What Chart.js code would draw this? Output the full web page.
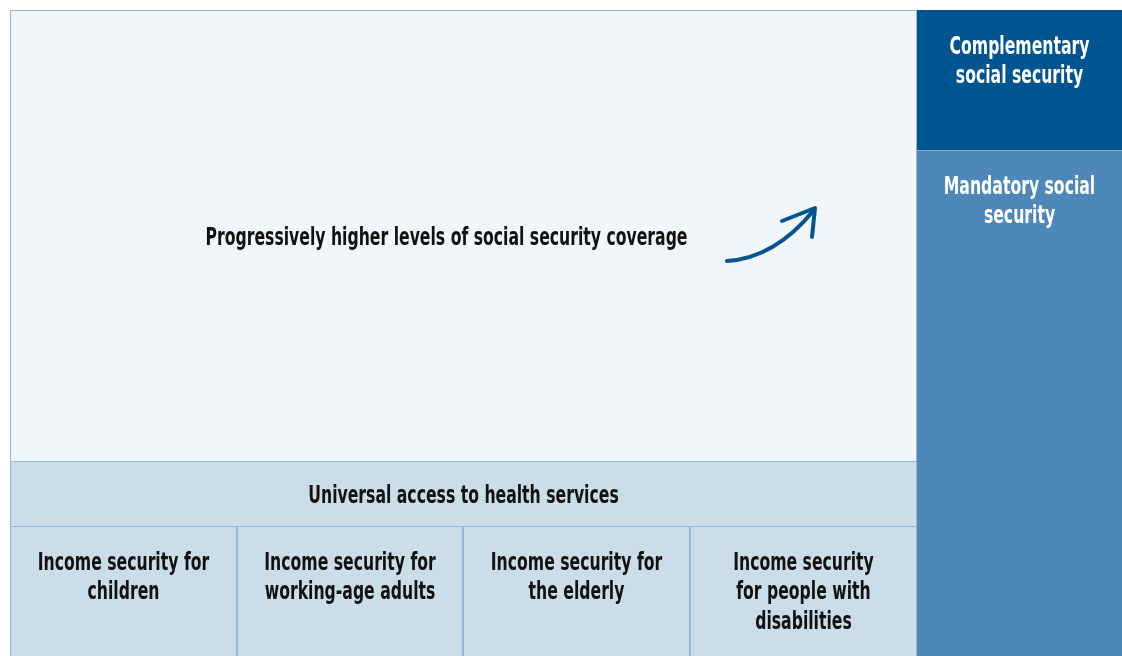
<!DOCTYPE html>
<html>
<head>
<meta charset="utf-8">
<script src="https://cdn.jsdelivr.net/npm/chart.js@4/dist/chart.umd.min.js"></script>
<style>
html, body { margin: 0; padding: 0; background: #fff; }
#wrap { width: 1122px; height: 656px; }
</style>
</head>
<body>
<div id="wrap"><canvas id="myChart" width="1122" height="656"></canvas></div>
<script>
// 칸 라벨 (줄 단위)
const cellLabels = [
    ['Progressively higher levels of social security coverage'],
    ['Universal access to health services'],
    ['Income security for', 'children'],
    ['Income security for', 'working-age adults'],
    ['Income security for', 'the elderly'],
    ['Income security', 'for people with', 'disabilities'],
    ['Complementary', 'social security'],
    ['Mandatory social', 'security']
];
// 칸 범위 (도식 단위)
const cellX0 = [10, 10, 10, 237, 463, 690, 917, 917];
const cellX1 = [917, 917, 237, 463, 690, 917, 1122, 1122];
const cellY0 = [10, 461, 526, 526, 526, 526, 10, 150];
const cellY1 = [461, 526, 656, 656, 656, 656, 150, 656];
const cellLevel = ['coverage', 'health', 'income', 'income', 'income', 'income', 'complementary', 'mandatory'];

// 화살표 (시작, 제어점, 끝)
const arrowPath = [[727, 261], [775, 258], [814, 210]];
const arrowWings = [[782, 221], [812, 237]];

const levelFill = {
    coverage: '#f0f6fa',
    health: '#cbdde9',
    income: '#cbdde9',
    complementary: '#00548f',
    mandatory: '#4e88b8'
};
const levelText = {
    coverage: '#111111',
    health: '#111111',
    income: '#111111',
    complementary: '#ffffff',
    mandatory: '#ffffff'
};

const FONT = "bold 25px 'Liberation Sans Narrow', 'DejaVu Sans Condensed', 'Open Sans', sans-serif";

const diagramPlugin = {
    id: 'diagram',
    beforeDatasetsDraw(chart) {
        const ctx = chart.ctx;
        const sx = chart.scales.x;
        const sy = chart.scales.y;
        const px = v => sx.getPixelForValue(v);
        const py = v => sy.getPixelForValue(v);

        ctx.save();
        // 칸 그리기
        cellLabels.forEach((lines, i) => {
            const x0 = px(cellX0[i]), x1 = px(cellX1[i]);
            const y0 = py(cellY0[i]), y1 = py(cellY1[i]);
            ctx.fillStyle = levelFill[cellLevel[i]];
            ctx.fillRect(x0, y0, x1 - x0, y1 - y0);
        });
        ctx.lineWidth = 1;
        cellLabels.forEach((lines, i) => {
            const x0 = px(cellX0[i]), x1 = px(cellX1[i]);
            const y0 = py(cellY0[i]), y1 = py(cellY1[i]);
            const lvl = cellLevel[i];
            if (lvl === 'complementary') return;
            if (lvl === 'mandatory') {
                // 위쪽 경계만
                ctx.strokeStyle = '#86abcb';
                ctx.beginPath();
                ctx.moveTo(x0, y0 + 0.5);
                ctx.lineTo(x1, y0 + 0.5);
                ctx.stroke();
                return;
            }
            ctx.strokeStyle = '#94b9da';
            ctx.strokeRect(x0 + 0.5, y0 + 0.5, x1 - x0 - 1, y1 - y0);
        });

        // 글자 폭 맞추기 (condensed)
        ctx.font = FONT;
        const squeeze = Math.min(1, 482 / ctx.measureText(cellLabels[0][0]).width);
        const lineH = 29.5;

        cellLabels.forEach((lines, i) => {
            const lvl = cellLevel[i];
            let cx = (px(cellX0[i]) + px(cellX1[i])) / 2;
            let firstY;
            if (lvl === 'coverage' || lvl === 'health') {
                firstY = (py(cellY0[i]) + py(cellY1[i])) / 2 - (lines.length - 1) * lineH / 2 + 3;
            } else {
                firstY = py(cellY0[i]) + 37;
            }
            if (lvl === 'coverage') cx -= 17;
            ctx.fillStyle = levelText[lvl];
            ctx.textAlign = 'center';
            ctx.textBaseline = 'middle';
            lines.forEach((t, k) => {
                ctx.save();
                ctx.translate(cx, firstY + k * lineH);
                ctx.scale(squeeze, 1);
                ctx.fillText(t, 0, 0);
                ctx.restore();
            });
        });

        // 화살표
        ctx.strokeStyle = '#00548f';
        ctx.lineWidth = 4;
        ctx.lineCap = 'round';
        ctx.lineJoin = 'round';
        ctx.beginPath();
        ctx.moveTo(px(arrowPath[0][0]), py(arrowPath[0][1]));
        ctx.quadraticCurveTo(px(arrowPath[1][0]), py(arrowPath[1][1]), px(arrowPath[2][0]), py(arrowPath[2][1]));
        ctx.stroke();
        ctx.beginPath();
        ctx.moveTo(px(arrowWings[0][0]), py(arrowWings[0][1]));
        ctx.lineTo(px(arrowPath[2][0]) + 1, py(arrowPath[2][1]) - 2);
        ctx.lineTo(px(arrowWings[1][0]), py(arrowWings[1][1]));
        ctx.stroke();
        ctx.restore();
    }
};

function drawChart() {
    const ctx = document.getElementById('myChart').getContext('2d');
    new Chart(ctx, {
        type: 'scatter',
        data: { datasets: [{ data: [] }] },
        options: {
            responsive: false,
            animation: false,
            layout: { padding: 0 },
            scales: {
                x: { type: 'linear', min: 0, max: 1122, display: false },
                y: { type: 'linear', min: 0, max: 656, reverse: true, display: false }
            },
            plugins: {
                legend: { display: false },
                tooltip: { enabled: false }
            }
        },
        plugins: [diagramPlugin]
    });
}

document.addEventListener('DOMContentLoaded', () => {
    drawChart();
});
</script>
</body>
</html>
